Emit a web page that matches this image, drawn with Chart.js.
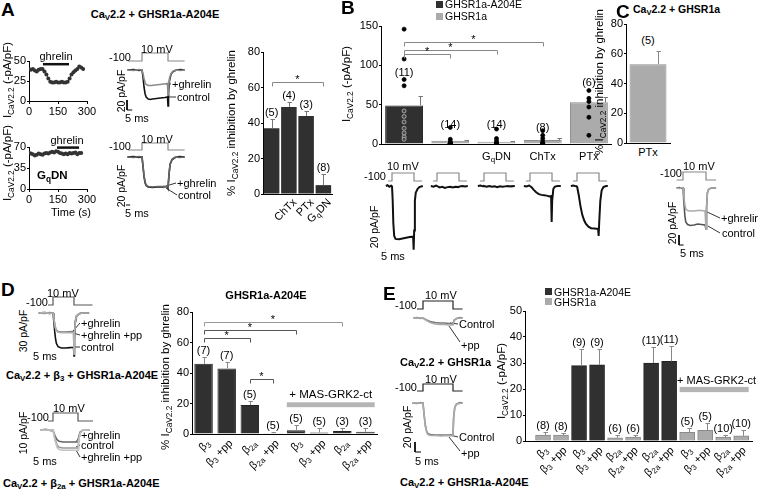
<!DOCTYPE html>
<html><head><meta charset="utf-8">
<script src="https://cdn.jsdelivr.net/npm/chart.js@4"></script>
<style>
html,body{margin:0;padding:0;background:#fff;}
body{width:758px;height:493px;position:relative;overflow:hidden;font-family:"Liberation Sans",Arial,Helvetica,sans-serif;color:#000;}
.t{position:absolute;white-space:nowrap;font-size:11px;line-height:1;width:max-content;}
canvas{position:absolute;}
sub{font-size:0.72em;vertical-align:-0.28em;line-height:0;}
.sw{position:absolute;}
</style></head><body>
<script>
// ================= DATA =================
// Panel A – time courses (time in s, current in -pA/pF)
const tcTimeTop = [0,10,20,30,40,50,60,70,80,90,100,110,120,130,140,150,160,170,180,190,200,210,220,230,240,250,260,270,280];
const tcCurrentTop = [40,39,40,38,37,39,40,40,37,33,28,24,23,23,24,23,23,24,23,23,24,28,33,36,38,40,43,42,40];
const tcGhrelinTop = [72,207];
const tcTimeBottom = [0,10,20,30,40,50,60,70,80,90,100,110,120,130,140,150,160,170,180,190,200,210,220,230,240,250,260,270];
const tcCurrentBottom = [60,59,58,56,57,59,58,57,59,60,59,61,62,61,63,62,60,59,58,59,58,60,59,60,61,58,60,60];
const tcGhrelinBottom = [145,259];
// Panel A – inhibition
const catsA = ['', 'ChTx', 'PTx', 'G<sub>q</sub>DN'];
const inhibA = [37, 49, 44, 5];
const inhibErrA = [5.5, 3, 3, 6.5];
const nA = ['(5)','(4)','(3)','(8)'];
// Panel B – current density
const catsB = ['', '', 'G<sub>q</sub>DN', 'ChTx', 'PTx'];
const receptorB = ['A204E','wt','wt','wt','wt'];
const currentB = [49, 4, 3, 5, 53];
const currentErrB = [12, 1.5, 1.2, 2, 7];
const nB = ['(11)','(14)','(14)','(8)','(6)'];
const cellsB = [
  [146,108,82,74,42,35,28,20,14,9,6],
  [21,6,3,1,1,0.5,0.5,0.3,0.2,0.1,0,0,0,0],
  [19,7,4,2,1,1,0.5,0.5,0.3,0.2,0,0,0,0],
  [17,11,7,3,1,0.5,0,0],
  [68,58,54,47,34,11]
];
// Panel C
const catsC = ['PTx'];
const inhibC = [53];
const inhibErrC = [9];
const nC = ['(5)'];
// Panel D
const catsD = ['β<sub>3</sub>','β<sub>3</sub> +pp','β<sub>2a</sub>','β<sub>2a</sub> +pp','β<sub>3</sub>','β<sub>3</sub> +pp','β<sub>2a</sub>','β<sub>2a</sub> +pp'];
const inhibD = [46, 43, 19, 0.5, 2.5, 1, 2, 1.5];
const inhibErrD = [4.5, 4.5, 2.5, 1, 3.5, 3, 2, 2.5];
const nD = ['(7)','(7)','(5)','(5)','(5)','(5)','(3)','(3)'];
// Panel E
const catsE = ['β<sub>3</sub>','β<sub>3</sub> +pp','β<sub>3</sub>','β<sub>3</sub> +pp','β<sub>2a</sub>','β<sub>2a</sub> +pp','β<sub>2a</sub>','β<sub>2a</sub> +pp','β<sub>3</sub>','β<sub>3</sub> +pp','β<sub>2a</sub>','β<sub>2a</sub> +pp'];
const receptorE = ['wt','wt','A204E','A204E','wt','wt','A204E','A204E','wt','wt','wt','wt'];
const currentE = [2.3, 2.3, 29, 29.3, 1.2, 1.5, 30, 30.6, 3.3, 4.1, 1.5, 2.0];
const currentErrE = [1.2, 0.9, 6.5, 6.2, 1, 0.8, 6, 6, 1.7, 2.9, 0.8, 2.3];
const nE = ['(8)','(8)','(9)','(9)','(6)','(6)','(11)','(11)','(5)','(5)','(10)','(10)'];
// Voltage protocol
const holdMV = -100, testMV = 10, testDurMs = 25;
// Current traces [ms, pA/pF]
const trA1_control = [[-14,0],[-8,1],[-3,-1],[0,0],[1,-15],[2,-35],[3,-48],[4,-54],[6,-58],[8,-59],[10,-58],[14,-57],[18,-56],[22,-55],[24.5,-54],[25,-72],[25.5,-45],[26.5,-20],[28,-8],[30,-3],[33,0],[37,1],[41,0]];
const trA1_ghrelin = [[-14,0],[-8,-1],[-3,1],[0,0],[1,-8],[2,-18],[3,-25],[4,-29],[6,-31],[9,-31],[13,-30],[17,-29],[21,-28],[24.5,-27],[25,-50],[25.5,-35],[26.5,-16],[28,-7],[30,-2],[33,0],[37,-1],[41,0]];
const trA2_control = [[-14,0],[-8,1],[-3,-1],[0,0],[1,-20],[2,-40],[3,-52],[4,-57],[6,-60],[10,-61],[15,-60],[20,-60],[24.5,-59],[25,-62],[26,-35],[27,-15],[29,-5],[32,-1],[36,1],[41,0]];
const trA2_ghrelin = [[-14,0],[-8,-1],[-3,1],[0,0],[1,-18],[2,-38],[3,-50],[4,-56],[6,-59],[10,-60],[15,-59],[20,-59],[24.5,-58],[25,-60],[26,-33],[27,-14],[29,-4],[32,0],[36,-1],[41,0]];
const trB = [
  [[-7,0],[-5,2],[-3,-2],[-1,1],[0,0],[0.8,-40],[1.5,-100],[2.5,-135],[4,-143],[8,-144],[12,-142],[16,-140],[20,-138],[24,-137],[24.6,-172],[25.2,-120],[26,-40],[27,-18],[29,-8],[31,-3],[35,0]],
  [[-7,0],[-4,-2],[-1,1],[0,0],[3,-4],[6,-2],[9,-5],[12,-3],[15,-2],[18,-4],[21,-2],[24,-3],[26,-1],[29,0],[32,-1],[35,0]],
  [[-7,0],[-4,1],[-1,-1],[0,0],[3,-2],[6,0],[9,-2],[12,-1],[15,-3],[18,-1],[21,-2],[24,-1],[27,0],[30,-1],[35,0]],
  [[-7,0],[-4,-1],[-1,1],[0,0],[2,-4],[4,-10],[7,-17],[10,-22],[13,-24],[16,-25],[19,-26],[22,-28],[24,-27],[24.6,-97],[25.2,-40],[26.5,-8],[28,-2],[31,0],[35,0]],
  [[-7,0],[-4,1],[-1,-1],[0,0],[2,-25],[4,-55],[6,-78],[8,-92],[10,-102],[13,-110],[16,-114],[20,-115],[24,-116],[24.6,-135],[25.2,-100],[26.5,-40],[28,-12],[30,-3],[33,0],[35,0]]
];
const trC_control = [[-7,0],[-4,1],[-1,-1],[0,0],[1,-30],[2,-55],[3,-68],[5,-73],[8,-75],[12,-74],[16,-72],[20,-73],[24,-74],[25,-82],[25.6,-40],[26.5,-10],[28,-2],[31,0],[36,0]];
const trC_ghrelin = [[-7,0],[-4,-1],[-1,1],[0,0],[1,-18],[2,-34],[3,-42],[5,-45],[8,-46],[12,-46],[16,-45],[20,-45],[24,-46],[25,-82],[25.6,-40],[26.5,-10],[28,-2],[31,0],[36,0]];
const trD1_control = [[-17,0],[-10,1],[-4,-1],[0,0],[1,-25],[2,-55],[3,-78],[4,-92],[6,-102],[10,-106],[15,-106],[20,-105],[24.5,-104],[25,-130],[25.5,-80],[26.5,-30],[28,-10],[31,-2],[35,0],[43,0]];
const trD1_ghrelin = [[-17,0],[-10,-1],[-4,1],[0,0],[1,-15],[2,-32],[3,-45],[4,-52],[6,-56],[10,-58],[15,-58],[20,-57],[24.5,-56],[25,-120],[25.5,-70],[26.5,-25],[28,-8],[31,-2],[35,0],[43,0]];
const trD1_ghrelinPP = [[-17,0],[-10,1],[-4,-1],[0,0],[1,-16],[2,-34],[3,-47],[4,-54],[6,-58],[10,-60],[15,-60],[20,-60],[24.5,-59],[25,-125],[25.5,-72],[26.5,-25],[28,-8],[31,-2],[35,0],[43,0]];
const trD2_ghrelin = [[-13,0],[-7,1],[-2,-1],[0,0],[2,-8],[4,-13],[6,-15],[10,-16],[15,-16],[20,-16],[25,-16],[25.5,-10],[27,-3],[30,0],[37,0]];
const trD2_control = [[-13,0],[0,0],[2,-12],[4,-20],[6,-23],[10,-24],[15,-24],[20,-24],[25,-24],[25.5,-14],[27,-4],[30,0],[37,0]];
const trD2_ghrelinPP = [[-13,0],[0,0],[2,-14],[4,-23],[6,-26],[10,-27],[15,-27],[20,-27],[25,-27],[25.5,-16],[27,-5],[30,0],[37,0]];
const trE1_control = [[-8,0],[-5,1],[-2,-1],[0,0],[3,-4],[6,-7],[10,-9],[14,-10],[18,-10],[22,-11],[25,-11],[26,-4],[28,-1],[31,1],[33,0]];
const trE1_pp = [[-8,0],[0,0],[3,-5],[6,-9],[10,-12],[14,-13],[18,-13],[22,-14],[25,-14],[26,-5],[28,-1],[33,0]];
const trE2_control = [[-9,0],[-5,-1],[-2,1],[0,0],[1,-25],[2,-45],[3,-56],[4,-61],[6,-63],[10,-64],[15,-64],[20,-64],[25,-64],[25.5,-30],[26.5,-8],[28,-2],[31,1],[33,0]];
const trE2_pp = [[-9,0],[0,0],[1,-26],[2,-47],[3,-58],[4,-63],[6,-65],[10,-65],[15,-66],[20,-65],[25,-66],[25.5,-31],[26.5,-9],[28,-2],[33,0]];

// ================= STYLE / HELPERS =================
const DARK = '#303030', GRAY = '#ababab', GRAY_B = '#8a8a8a';
Chart.defaults.font.family = '"Liberation Sans", Arial, Helvetica, sans-serif';
Chart.defaults.color = '#000';

// per-chart annotation plugin (error bars, brackets, band) – passed inline, not registered globally
function annotPlugin(o) {
  return {
    id: 'annot',
    afterDatasetsDraw(chart) {
      const ctx = chart.ctx, y = chart.scales.y, m = chart.getDatasetMeta(0);
      ctx.save();
      if (o.band) {
        const b = o.band, e1 = m.data[b.from], e2 = m.data[b.to];
        const x1 = e1.x - e1.width / 2, x2 = e2.x + e2.width / 2;
        const ya = y.getPixelForValue(b.v1), yb = y.getPixelForValue(b.v2);
        ctx.fillStyle = b.color; ctx.fillRect(x1, Math.min(ya, yb), x2 - x1, Math.abs(ya - yb));
      }
      if (o.err) {
        ctx.strokeStyle = o.errColor || '#777'; ctx.lineWidth = 1;
        m.data.forEach((el, i) => {
          const x = Math.round(el.x + (o.errOff || 0) * el.width) + 0.5;
          const y0 = y.getPixelForValue(o.val[i]), y1 = Math.round(y.getPixelForValue(o.val[i] + o.err[i])) + 0.5;
          ctx.beginPath(); ctx.moveTo(x, y0); ctx.lineTo(x, y1); ctx.moveTo(x - 2, y1); ctx.lineTo(x + 2.5, y1); ctx.stroke();
        });
      }
      if (o.brackets) {
        ctx.lineWidth = 1;
        o.brackets.forEach(b => {
          const x1 = Math.round(m.data[b[0]].x) + 0.5, x2 = Math.round(m.data[b[1]].x) + 0.5;
          const yy = Math.round(y.getPixelForValue(b[2])) + 0.5;
          ctx.strokeStyle = b[3] || '#888';
          ctx.beginPath(); ctx.moveTo(x1, yy + 4); ctx.lineTo(x1, yy); ctx.lineTo(x2, yy); ctx.lineTo(x2, yy + 4); ctx.stroke();
        });
      }
      ctx.restore();
    }
  };
}

function makeCanvas(area, m) {
  const c = document.createElement('canvas');
  const W = Math.round(area.r - area.l + m.l + m.r), H = Math.round(area.b - area.t + m.t + m.b);
  c.width = W; c.height = H;
  Object.assign(c.style, {left: (area.l - m.l) + 'px', top: (area.t - m.t) + 'px', width: W + 'px', height: H + 'px'});
  document.body.appendChild(c);
  return c;
}
function baseOpts(m, scales) {
  return {responsive: false, animation: false, devicePixelRatio: 1,
    layout: {autoPadding: false, padding: {left: 0, top: m.t, right: m.r, bottom: 0}},
    plugins: {legend: {display: false}, tooltip: {enabled: false}}, scales};
}
function yAxis(min, max, step, w) {
  return {type: 'linear', position: 'left', min, max, bounds: 'data',
    ticks: {stepSize: step, padding: 1, color: '#000', font: {size: 11}},
    grid: {display: true, drawOnChartArea: false, drawTicks: true, tickLength: 2, color: '#000', lineWidth: 1},
    border: {display: true, color: '#000', width: 1},
    afterFit(s) { s.width = w; }};
}
function xHidden(h, extra) {
  return Object.assign({ticks: {display: false}, grid: {display: false},
    border: {display: true, color: '#000', width: 1}, afterFit(s) { s.height = h; }}, extra);
}
function T(h, x, y, o) {
  o = o || {};
  const d = document.createElement('div'); d.className = 't'; d.innerHTML = h;
  d.style.left = x + 'px'; d.style.top = y + 'px';
  if (o.s) d.style.fontSize = o.s + 'px';
  if (o.b) d.style.fontWeight = 'bold';
  const a = o.a || 'l';
  const tx = a === 'l' ? '0%' : a === 'c' ? '-50%' : '-100%';
  const ty = o.vb ? '-100%' : '-50%';
  d.style.transform = `translate(${tx},${ty})` + (o.r ? ` rotate(${o.r}deg)` : '');
  document.body.appendChild(d); return d;
}
function RT(h, x, y) {
  const w = document.createElement('div');
  w.style.cssText = `position:absolute;left:${x}px;top:${y}px;width:0;height:0;`;
  const s = document.createElement('div'); s.className = 't'; s.innerHTML = h;
  s.style.right = '0px'; s.style.top = '-6px'; s.style.lineHeight = '12px';
  s.style.transformOrigin = '100% 50%'; s.style.transform = 'rotate(-45deg)';
  w.appendChild(s); document.body.appendChild(w);
}
function box(x, y, w, h, c) {
  const d = document.createElement('div'); d.className = 'sw';
  d.style.cssText += `left:${x}px;top:${y}px;width:${w}px;height:${h}px;background:${c};`;
  document.body.appendChild(d);
}
const cx = (ch, i) => parseFloat(ch.canvas.style.left) + ch.getDatasetMeta(0).data[i].x;
const cy = (ch, v) => parseFloat(ch.canvas.style.top) + ch.scales.y.getPixelForValue(v);
function nLabels(ch, vals, errs, labels) {
  labels.forEach((t, i) => T(t, cx(ch, i), cy(ch, vals[i] + errs[i]) - 1, {a: 'c', vb: 1}));
}
function stars(ch, br) {
  br.forEach(b => T('*', (cx(ch, b[0]) + cx(ch, b[1])) / 2, cy(ch, b[2]) + 3, {a: 'c', vb: 1}));
}
function tcChart(area, m, t, v, ghr, ghrY, yMax, yStep) {
  const c = makeCanvas(area, m);
  return new Chart(c, {type: 'line', data: {datasets: [
      {data: t.map((x, i) => ({x, y: v[i]})), borderColor: '#333', borderWidth: 1, pointRadius: 2, pointBackgroundColor: '#333', pointBorderWidth: 0, tension: 0},
      {data: [{x: ghr[0], y: ghrY}, {x: ghr[1], y: ghrY}], borderColor: '#111', borderWidth: 2.5, pointRadius: 0, clip: false}]},
    options: baseOpts(m, {
      x: {type: 'linear', min: 0, max: 300, bounds: 'data',
        ticks: {stepSize: 150, padding: 1, maxRotation: 0, color: '#000', font: {size: 11}},
        grid: {display: true, drawOnChartArea: false, tickLength: 3, color: '#000'},
        border: {display: true, color: '#000'}, afterFit(s) { s.height = m.b; }},
      y: yAxis(0, yMax, yStep, m.l)})});
}
function traceChart(P) {
  const c = makeCanvas({l: P.l, r: P.r, t: P.t, b: P.b}, {l: 0, t: 0, r: 0, b: 0});
  const xmin = (P.l - P.x0) / P.pxMs, xmax = (P.r - P.x0) / P.pxMs;
  const kV = (P.vLow - P.vHigh) / (testMV - holdMV);
  const vmax = testMV + (P.vHigh - P.t) / kV, vmin = holdMV - (P.b - P.vLow) / kV;
  const imax = (P.i0 - P.t) / P.pxPA, imin = -(P.b - P.i0) / P.pxPA;
  const tOf = px => (px - P.x0) / P.pxMs, iOf = py => -(py - P.i0) / P.pxPA;
  const ds = [];
  ds.push({data: [{x: P.vPre, y: holdMV}, {x: 0, y: holdMV}, {x: 0, y: testMV}, {x: testDurMs, y: testMV}, {x: testDurMs, y: holdMV}, {x: P.vPost, y: holdMV}],
    yAxisID: 'yV', borderColor: P.vColor || '#888', borderWidth: 1.2});
  P.traces.forEach(tr => ds.push({data: tr.d.map(p => ({x: p[0], y: p[1]})), yAxisID: 'yI', borderColor: tr.c, borderWidth: tr.w || 1.6}));
  if (P.sb) {
    const tx = tOf(P.sb.x), iy = iOf(P.sb.y);
    ds.push({data: [{x: tx, y: iy + P.sb.dI}, {x: tx, y: iy}, {x: tx + P.sb.dT, y: iy}], yAxisID: 'yI', borderColor: '#000', borderWidth: 1});
  }
  (P.leaders || []).forEach(l => ds.push({data: [{x: tOf(l[0]), y: iOf(l[1])}, {x: tOf(l[2]), y: iOf(l[3])}], yAxisID: 'yI', borderColor: '#000', borderWidth: 0.8}));
  ds.forEach(d => { d.pointRadius = 0; d.fill = false; d.tension = 0; d.clip = false; });
  return new Chart(c, {type: 'line', data: {datasets: ds},
    options: baseOpts({l: 0, t: 0, r: 0, b: 0}, {
      x: {type: 'linear', display: false, min: xmin, max: xmax, bounds: 'data'},
      yV: {type: 'linear', display: false, min: vmin, max: vmax, bounds: 'data'},
      yI: {type: 'linear', display: false, min: imin, max: imax, bounds: 'data'}})});
}

// ================= PANEL C (bar chart, created first, on its own layer) =================
const mC = {l: 24, t: 8, r: 2, b: 9};
const cC = makeCanvas({l: 626, t: 24, r: 670, b: 143}, mC);
cC.style.zIndex = '5';
const chC = new Chart(cC, {type: 'bar',
  data: {labels: catsC, datasets: [{data: inhibC, backgroundColor: GRAY, borderColor: GRAY_B, borderWidth: 1, barPercentage: 0.84, categoryPercentage: 1}]},
  options: {responsive: false, animation: false, devicePixelRatio: 1,
    layout: {autoPadding: false, padding: {left: 0, top: mC.t, right: mC.r, bottom: 0}},
    plugins: {legend: {display: false}},
    scales: {x: {type: 'category', ticks: {display: false}, grid: {display: false}, border: {display: true, color: '#000'}, afterFit(s) { s.height = mC.b; }},
             y: yAxis(0, 80, 20, mC.l)}},
  plugins: [annotPlugin({val: inhibC, err: inhibErrC, errColor: '#888', errOff: 0.27})]});
T(nC[0], cx(chC, 0), 40, {a: 'c'});
T(catsC[0], cx(chC, 0), 152, {a: 'c'});

// ================= PANEL A =================
tcChart({l: 29, t: 61, r: 87, b: 101}, {l: 22, t: 10, r: 12, b: 18}, tcTimeTop, tcCurrentTop, tcGhrelinTop, 46, 50, 25);
tcChart({l: 29, t: 147, r: 87, b: 189}, {l: 22, t: 10, r: 12, b: 18}, tcTimeBottom, tcCurrentBottom, tcGhrelinBottom, 69, 70, 35);
traceChart({l: 126, r: 190, t: 44, b: 112, x0: 142, pxMs: 1.04, vLow: 61, vHigh: 53, i0: 70, pxPA: 0.5, vPre: -13.5, vPost: 41, vColor: '#888',
  traces: [{d: trA1_ghrelin, c: '#8a8a8a'}, {d: trA1_control, c: '#111'}], sb: {x: 127, y: 110, dI: 20, dT: 5},
  leaders: [[166, 84, 171, 84], [167, 97, 176, 97]]});
traceChart({l: 126, r: 190, t: 132, b: 210, x0: 142, pxMs: 1.04, vLow: 150, vHigh: 143, i0: 157, pxPA: 0.5, vPre: -13.5, vPost: 41, vColor: '#888',
  traces: [{d: trA2_ghrelin, c: '#666'}, {d: trA2_control, c: '#111'}], sb: {x: 125, y: 205, dI: 20, dT: 5},
  leaders: [[166, 186, 176, 183], [166, 188, 177, 195]]});

const mA = {l: 28, t: 8, r: 4, b: 9};
const cA = makeCanvas({l: 263, t: 52, r: 332, b: 194}, mA);
const brA = [[0, 3, 63, '#888']];
const chA = new Chart(cA, {type: 'bar',
  data: {labels: catsA.map((_, i) => String(i)), datasets: [{data: inhibA, backgroundColor: DARK, borderWidth: 0, barPercentage: 0.9, categoryPercentage: 1}]},
  options: baseOpts(mA, {x: xHidden(mA.b, {type: 'category'}), y: yAxis(0, 80, 20, mA.l)}),
  plugins: [annotPlugin({val: inhibA, err: inhibErrA, errColor: '#777', brackets: brA})]});
nLabels(chA, inhibA, inhibErrA, nA);
stars(chA, brA);
catsA.forEach((t, i) => { if (t) RT(t, cx(chA, i) + 5, 200); });

// ================= PANEL B =================
const mB = {l: 26, t: 8, r: 0, b: 9};
const cB = makeCanvas({l: 381, t: 26, r: 612, b: 144}, mB);
const brB = [[0, 1, 114, '#888'], [0, 2, 120, '#888'], [0, 3, 130, '#888']];
const labelsB = catsB.map((_, i) => String(i));
const dotData = [], dotFill = [], dotBorder = [];
cellsB.forEach((arr, i) => arr.forEach(v => {
  dotData.push({x: labelsB[i], y: v});
  const inside = receptorB[i] === 'A204E' && v < currentB[i];
  dotFill.push(inside ? '#444' : '#000'); dotBorder.push(inside ? '#bbb' : '#000');
}));
const chB = new Chart(cB, {type: 'bar',
  data: {labels: labelsB, datasets: [
    {data: currentB, backgroundColor: receptorB.map(r => r === 'A204E' ? DARK : GRAY), borderColor: receptorB.map(r => r === 'A204E' ? '#222' : GRAY_B), borderWidth: 1, barPercentage: 0.82, categoryPercentage: 1, order: 2},
    {type: 'line', data: dotData, showLine: false, pointRadius: 2, pointBackgroundColor: dotFill, pointBorderColor: dotBorder, pointBorderWidth: 0.8, order: 1}]},
  options: baseOpts(mB, {x: xHidden(mB.b, {type: 'category'}), y: yAxis(0, 150, 50, mB.l)}),
  plugins: [annotPlugin({val: currentB, err: currentErrB, errColor: '#777', errOff: 0.42, brackets: brB})]});
const nPosB = [91, 25, 25, 22, 79];
nB.forEach((t, i) => T(t, cx(chB, i), cy(chB, nPosB[i]), {a: 'c'}));
stars(chB, brB);
catsB.forEach((t, i) => { if (t) T(t, cx(chB, i), 156, {a: 'c'}); });
box(436, 1, 7, 7, DARK); box(436, 13, 7, 7, GRAY);
T('GHSR1a-A204E', 445, 4, {s: 10.5}); T('GHSR1a', 445, 16, {s: 10.5});
const x0B = [392, 437, 484, 530, 577];
trB.forEach((d, k) => traceChart({l: x0B[k] - 7, r: x0B[k] + 32, t: 160, b: 256, x0: x0B[k], pxMs: 0.88, vLow: 181, vHigh: 173, i0: 186, pxPA: 0.37,
  vPre: -4.5, vPost: 34, vColor: '#888', traces: [{d, c: '#111', w: 2}], sb: k === 0 ? {x: 381, y: 250, dI: 20, dT: 5} : null}));

// C trace
traceChart({l: 676, r: 720, t: 160, b: 252, x0: 683, pxMs: 0.92, vLow: 180, vHigh: 172, i0: 188, pxPA: 0.5, vPre: -7, vPost: 36, vColor: '#888',
  traces: [{d: trC_ghrelin, c: '#aaa'}, {d: trC_control, c: '#555'}], sb: {x: 679, y: 245, dI: 20, dT: 5},
  leaders: [[705, 211, 720, 218], [708, 226, 720, 233]]});

// ================= PANEL D =================
traceChart({l: 38, r: 95, t: 288, b: 360, x0: 53, pxMs: 0.84, vLow: 305, vHigh: 297, i0: 313, pxPA: 0.33, vPre: -6, vPost: 47, vColor: '#555',
  traces: [{d: trD1_ghrelinPP, c: '#b0b0b0'}, {d: trD1_ghrelin, c: '#777'}, {d: trD1_control, c: '#111'}], sb: {x: 30, y: 350, dI: 30, dT: 5},
  leaders: [[73, 331, 80, 323], [73, 333, 80, 335], [73, 347, 80, 347]]});
traceChart({l: 38, r: 95, t: 404, b: 470, x0: 53, pxMs: 1.0, vLow: 421, vHigh: 413, i0: 430, pxPA: 0.75, vPre: -5, vPost: 40, vColor: '#555',
  traces: [{d: trD2_ghrelinPP, c: '#c4c4c4'}, {d: trD2_control, c: '#999'}, {d: trD2_ghrelin, c: '#666'}], sb: {x: 29, y: 460, dI: 10, dT: 5},
  leaders: [[76, 442, 80, 436], [76, 447, 80, 445], [76, 450, 80, 457]]});
const mD = {l: 22, t: 8, r: 2, b: 9};
const cD = makeCanvas({l: 192, t: 312, r: 377, b: 434}, mD);
const brD = [[0, 2, 63, '#555'], [0, 4, 68.5, '#555'], [0, 6, 73.6, '#999'], [2, 3, 36, '#555']];
const chD = new Chart(cD, {type: 'bar',
  data: {labels: catsD.map((_, i) => String(i)), datasets: [{data: inhibD, backgroundColor: DARK, borderColor: '#222', borderWidth: 1, barPercentage: 0.8, categoryPercentage: 1}]},
  options: baseOpts(mD, {x: xHidden(mD.b, {type: 'category'}), y: yAxis(0, 80, 20, mD.l)}),
  plugins: [annotPlugin({val: inhibD, err: inhibErrD, errColor: '#888', brackets: brD, band: {from: 4, to: 7, v1: 17.6, v2: 20.8, color: '#b5b5b5'}})]});
nLabels(chD, inhibD, inhibErrD, nD);
stars(chD, brD);
catsD.forEach((t, i) => RT(t, cx(chD, i) + 4, 441));
T('+ MAS-GRK2-ct', (cx(chD, 4) + cx(chD, 7)) / 2, 395, {a: 'c', s: 11.5});

// ================= PANEL E =================
traceChart({l: 411, r: 466, t: 290, b: 350, x0: 423, pxMs: 1.2, vLow: 309, vHigh: 301, i0: 318, pxPA: 0.5, vPre: -5, vPost: 33, vColor: '#222',
  traces: [{d: trE1_pp, c: '#aaa'}, {d: trE1_control, c: '#777'}],
  leaders: [[450, 323, 458, 324], [449, 326, 460, 342]]});
traceChart({l: 411, r: 466, t: 372, b: 465, x0: 423, pxMs: 1.2, vLow: 391, vHigh: 384, i0: 403, pxPA: 0.5, vPre: -5, vPost: 33, vColor: '#222',
  traces: [{d: trE2_pp, c: '#aaa'}, {d: trE2_control, c: '#777'}], sb: {x: 415, y: 452, dI: 20, dT: 5},
  leaders: [[450, 435, 458, 437], [449, 437, 460, 451]]});
const mE = {l: 22, t: 8, r: 4, b: 9};
const cE = makeCanvas({l: 525, t: 311, r: 752, b: 441}, mE);
const chE = new Chart(cE, {type: 'bar',
  data: {datasets: [{data: currentE.map((v, i) => ({x: i + 1, y: v})),
    backgroundColor: receptorE.map(r => r === 'A204E' ? DARK : GRAY), borderColor: receptorE.map(r => r === 'A204E' ? '#222' : GRAY_B),
    borderWidth: 1, barThickness: 15}]},
  options: baseOpts(mE, {x: xHidden(mE.b, {type: 'linear', min: 0, max: 12.6, bounds: 'data', offset: false}), y: yAxis(0, 50, 10, mE.l)}),
  plugins: [annotPlugin({val: currentE, err: currentErrE, errColor: '#888', errOff: 0.15, band: {from: 8, to: 11, v1: 18.8, v2: 20.8, color: '#b5b5b5'}})]});
nLabels(chE, currentE, currentErrE, nE);
catsE.forEach((t, i) => RT(t, cx(chE, i) + 3, 448));
T('+ MAS-GRK2-ct', 677, 380, {s: 11});
box(545, 288, 7, 7, DARK); box(545, 298, 7, 7, GRAY);
T('GHSR1a-A204E', 554, 292, {s: 10.5}); T('GHSR1a', 554, 302, {s: 10.5});

// ================= TEXT =================
T('A', 1, 9, {s: 19, b: 1}); T('B', 341, 7, {s: 19, b: 1}); T('C', 616, 11, {s: 19, b: 1});
T('D', 1, 289, {s: 19, b: 1}); T('E', 383, 293, {s: 19, b: 1});
T('Ca<sub>V</sub>2.2 + GHSR1a-A204E', 155, 14, {a: 'c', b: 1});
T('Ca<sub>V</sub>2.2 + GHSR1a', 633, 9, {b: 1, s: 10.5});
T('GHSR1a-A204E', 266, 295, {a: 'c', b: 1});
T('Ca<sub>V</sub>2.2 + β<sub>3</sub> + GHSR1a-A204E', 6, 375, {b: 1});
T('Ca<sub>V</sub>2.2 + β<sub>2a</sub> + GHSR1a-A204E', 3, 483, {b: 1});
T('Ca<sub>V</sub>2.2 + GHSR1a', 400, 362, {b: 1});
T('Ca<sub>V</sub>2.2 + GHSR1a-A204E', 400, 482, {b: 1});
const IC = 'I<sub>CaV2.2</sub> (-pA/pF)', PI = '% I<sub>CaV2.2</sub> inhibition by ghrelin';
T(IC, 8, 80, {a: 'c', r: -90, s: 11.5}); T(IC, 8, 163, {a: 'c', r: -90, s: 11.5});
T(PI, 232, 123, {a: 'c', r: -90, s: 11.5}); T(IC, 347, 84, {a: 'c', r: -90, s: 11.5});
T(PI, 600, 82, {a: 'c', r: -90, s: 11.5}); T(PI, 166, 377, {a: 'c', r: -90, s: 11.5});
T(IC, 502, 381, {a: 'c', r: -90, s: 11.5});
T('ghrelin', 56, 56, {a: 'c'}); T('ghrelin', 67, 140, {a: 'c'});
T('G<sub>q</sub>DN', 37, 176, {b: 1, s: 11.5}); T('Time (s)', 71, 212, {a: 'c'});
T('20 pA/pF', 121, 91, {a: 'c', r: -90, s: 10.5}); T('5 ms', 125, 118);
T('20 pA/pF', 121, 186, {a: 'c', r: -90, s: 10.5}); T('5 ms', 125, 213);
T('20 pA/pF', 374, 227, {a: 'c', r: -90, s: 10.5}); T('5 ms', 381, 256);
T('20 pA/pF', 672, 223, {a: 'c', r: -90, s: 10.5}); T('5 ms', 680, 253);
T('30 pA/pF', 23, 331, {a: 'c', r: -90, s: 10.5}); T('5 ms', 33, 356);
T('10 pA/pF', 23, 433, {a: 'c', r: -90, s: 10.5}); T('5 ms', 33, 461);
T('20 pA/pF', 407, 427, {a: 'c', r: -90, s: 10.5}); T('5 ms', 415, 461);
[[131, 57, 141, 49], [131, 146, 141, 139], [386, 176, 387, 166], [682, 173, 683, 166], [48, 302, 47, 293], [49, 417, 53, 408], [417, 305, 425, 295], [417, 387, 425, 379]]
  .forEach(p => { T('-100', p[0], p[1], {a: 'r'}); T('10 mV', p[2], p[3]); });
T('+ghrelin', 172, 84); T('control', 177, 97);
T('+ghrelin', 177, 183); T('control', 178, 195);
T('+ghrelin', 721, 218); T('control', 722, 233);
T('+ghrelin', 81, 323); T('+ghrelin +pp', 81, 335); T('control', 81, 347);
T('+ghrelin', 81, 435); T('control', 81, 445); T('+ghrelin +pp', 81, 457);
T('Control', 459, 324); T('+pp', 461, 345);
T('Control', 459, 437); T('+pp', 461, 453);
</script>
</body></html>
